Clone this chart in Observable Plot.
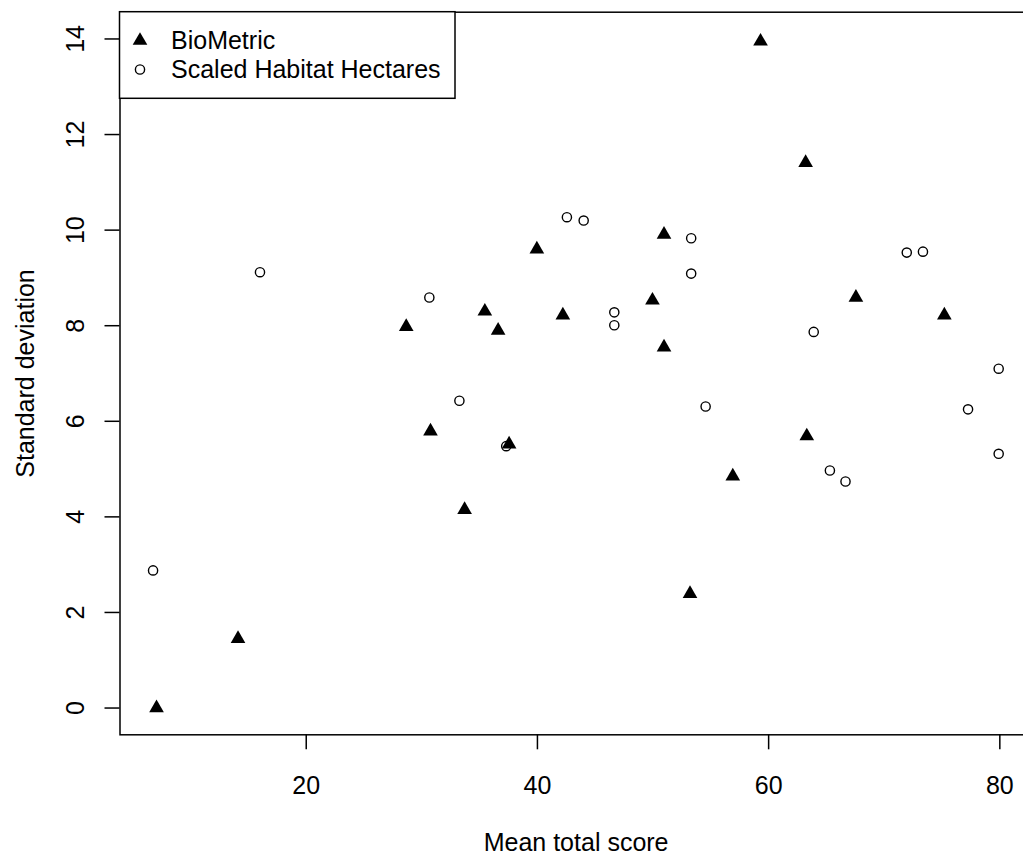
<!DOCTYPE html>
<html><head><meta charset="utf-8">
<script src="https://cdn.jsdelivr.net/npm/d3@7"></script>
<script src="https://cdn.jsdelivr.net/npm/@observablehq/plot@0.6"></script>
<style>
html,body{margin:0;padding:0;background:#fff;overflow:hidden;}
#chart{width:1023px;height:854px;overflow:hidden;position:relative;}
</style></head><body><div id="chart"></div>
<script>
// BioMetric (filled triangles)
const bioX = [7.05, 14.1, 28.65, 30.75, 33.7, 35.45, 36.6, 37.55, 39.95, 42.2, 49.95, 50.95, 50.95, 53.2, 56.9, 59.3, 63.2, 63.3, 67.55, 75.2];
const bioY = [0.0, 1.45, 7.98, 5.79, 4.15, 8.30, 7.90, 5.52, 9.60, 8.22, 8.53, 9.91, 7.55, 2.39, 4.85, 13.95, 11.41, 5.69, 8.59, 8.22];
// Scaled Habitat Hectares (open circles)
const shhX = [6.75, 16.0, 30.65, 33.25, 37.3, 42.55, 44.0, 46.65, 46.65, 53.3, 53.3, 54.55, 63.9, 65.3, 66.65, 71.95, 73.35, 77.25, 79.9, 79.9];
const shhY = [2.88, 9.12, 8.59, 6.43, 5.48, 10.27, 10.20, 8.28, 8.01, 9.83, 9.09, 6.31, 7.87, 4.97, 4.74, 9.53, 9.55, 6.25, 7.10, 5.32];
const xTicks = [20, 40, 60, 80];
const yTicks = [0, 2, 4, 6, 8, 10, 12, 14];
const seriesNames = ["BioMetric", "Scaled Habitat Hectares"];
const xTitle = "Mean total score";
const yTitle = "Standard deviation";

const bio = bioX.map((x, i) => ({x, y: bioY[i]}));
const shh = shhX.map((x, i) => ({x, y: shhY[i]}));
const FONT = "'Liberation Sans', Arial, Helvetica, sans-serif";

const plot = Plot.plot({
  width: 1023, height: 854,
  marginLeft: 119.5, marginTop: 11.7, marginBottom: 119.7, marginRight: -8.7,
  style: {fontFamily: FONT, fontSize: "25px", color: "black", background: "white", overflow: "hidden"},
  x: {domain: [3.89, 82.8]},
  y: {domain: [-0.56, 14.56]},
  marks: [
    Plot.frame({stroke: "black", strokeWidth: 1.5}),
    Plot.axisX({ticks: xTicks, tickSize: 15, tickPadding: 26.7, tickFormat: d => String(d), label: null, stroke: "black", strokeWidth: 1.5, fontSize: 25}),
    Plot.axisY({ticks: yTicks, tickSize: 15, tickFormat: () => "", label: null, stroke: "black", strokeWidth: 1.5}),
    Plot.text(yTicks, {y: d => d, text: d => String(d), frameAnchor: "left", dx: -36, rotate: -90, textAnchor: "middle", lineAnchor: "bottom", fontSize: 25, fill: "black"}),
    Plot.text([xTitle], {frameAnchor: "bottom", dy: 115.7, textAnchor: "middle", lineAnchor: "bottom", fontSize: 25, fill: "black"}),
    Plot.text([yTitle], {frameAnchor: "left", dx: -86.5, rotate: -90, textAnchor: "middle", lineAnchor: "bottom", fontSize: 25, fill: "black"}),
    Plot.dot(bio, {x: "x", y: "y", symbol: "triangle", r: 5.44, fill: "black"}),
    Plot.dot(shh, {x: "x", y: "y", symbol: "circle", r: 4.6, fill: "none", stroke: "black", strokeWidth: 1.4})
  ]
});

// legend box (top-left, inside the plot frame)
const svg = d3.select(plot);
const g = svg.append("g").attr("font-family", FONT).attr("font-size", 25).attr("text-anchor", "start");
g.append("rect").attr("x", 119.5).attr("y", 11.7).attr("width", 335.5).attr("height", 86.6)
  .attr("fill", "white").attr("stroke", "black").attr("stroke-width", 1.5);
const rowY = [40.6, 69.5];
g.append("path").attr("d", d3.symbol(d3.symbolTriangle, 5.44 * 5.44 * Math.PI)())
  .attr("transform", `translate(140,${rowY[0]})`).attr("fill", "black");
g.append("circle").attr("cx", 140).attr("cy", rowY[1]).attr("r", 4.6)
  .attr("fill", "none").attr("stroke", "black").attr("stroke-width", 1.4);
seriesNames.forEach((name, i) => {
  g.append("text").attr("x", 171).attr("y", rowY[i]).attr("dy", "0.35em")
    .attr("text-anchor", "start").attr("fill", "black").text(name);
});

document.getElementById("chart").appendChild(plot);
</script>
</body></html>
